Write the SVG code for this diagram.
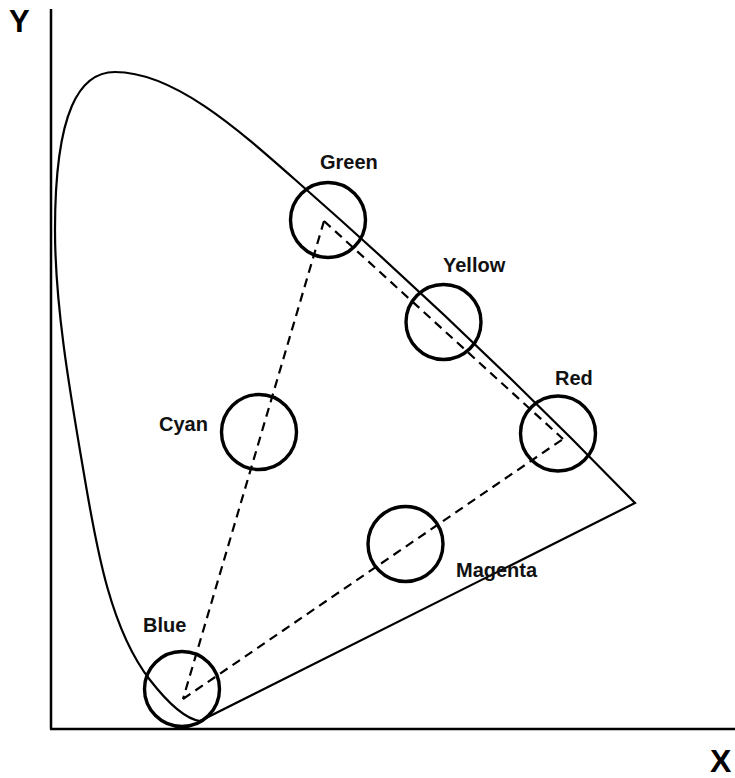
<svg xmlns="http://www.w3.org/2000/svg" width="735" height="778" viewBox="0 0 735 778">
<style>
.ax{stroke:#000;stroke-width:2.5;fill:none}
.loc{stroke:#000;stroke-width:2.2;fill:none;stroke-linejoin:miter}
.dash{stroke:#000;stroke-width:2.2;fill:none;stroke-dasharray:9 6}
.ring{stroke:#000;stroke-width:3.4;fill:none}
.lbl{font-family:"Liberation Sans",Arial,Helvetica,sans-serif;font-weight:bold;font-size:20px;fill:#111}
.axl{font-family:"Liberation Sans",Arial,Helvetica,sans-serif;font-weight:bold;fill:#000}
</style>
<rect width="735" height="778" fill="#fff"/>
<g id="axes">
<line class="ax" x1="51" y1="9" x2="51" y2="729"/>
<line class="ax" x1="50" y1="729" x2="735" y2="729"/>
<text class="axl" x="9" y="32" font-size="31">Y</text>
<text class="axl" x="710" y="772" font-size="32">X</text>
</g>
<g id="locus">
<path class="loc" d="M635 503 Q473 336 300 184 C240 131 175 72 115 72 C80 72 55 110 55 230 C55 310 71.4 400 85 480 C96.9 550 111 630 150 680 C165.6 700 185 719 200 721 Z"/>
</g>
<g id="connectors">
<line class="dash" x1="324" y1="221" x2="183" y2="699"/>
<line class="dash" x1="324" y1="221" x2="563" y2="439"/>
<line class="dash" x1="183" y1="699" x2="563" y2="439"/>
</g>
<g id="green"><circle class="ring" cx="328" cy="220" r="37.5"/><text class="lbl" x="320" y="169">Green</text></g>
<g id="yellow"><circle class="ring" cx="443.5" cy="322" r="37.5"/><text class="lbl" x="443" y="272">Yellow</text></g>
<g id="red"><circle class="ring" cx="558" cy="433.5" r="37.5"/><text class="lbl" x="555" y="385">Red</text></g>
<g id="cyan"><circle class="ring" cx="259" cy="432" r="37.5"/><text class="lbl" x="159" y="431">Cyan</text></g>
<g id="magenta"><circle class="ring" cx="405.5" cy="544" r="37.5"/><text class="lbl" x="456" y="577">Magenta</text></g>
<g id="blue"><circle class="ring" cx="182" cy="689" r="37.5"/><text class="lbl" x="143" y="632">Blue</text></g>
</svg>
